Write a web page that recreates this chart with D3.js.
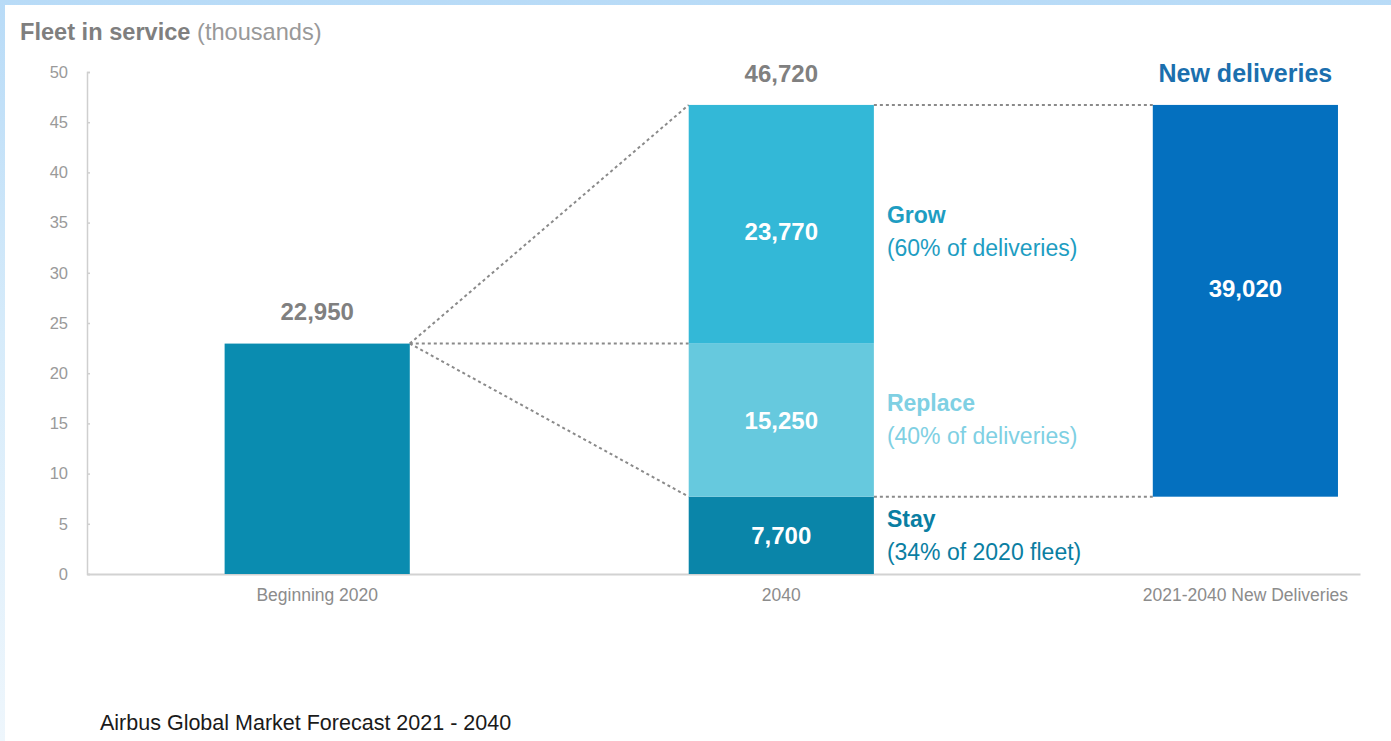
<!DOCTYPE html>
<html>
<head>
<meta charset="utf-8">
<script src="https://cdn.jsdelivr.net/npm/d3@7.9.0/dist/d3.min.js"></script>
<style>
  html, body { margin: 0; padding: 0; }
  body {
    width: 1391px; height: 741px; overflow: hidden;
    background: linear-gradient(180deg, #b8dbf7 0%, #d6ebfa 45%, #eef6fc 100%);
    font-family: "Liberation Sans", Arial, Helvetica, sans-serif;
  }
  #chart { position: absolute; left: 5px; top: 5px; width: 1386px; height: 736px; background: #fff; }
</style>
</head>
<body>
<div id="chart"></div>
<script>
// data (fleet counts, aircraft)
const categories = ["Beginning 2020", "2040", "2021-2040 New Deliveries"];
const fleet2020 = 22950;
const segmentNames = ["Stay", "Replace", "Grow"];
const segmentValues = [7700, 15250, 23770];
const segmentNotes = ["(34% of 2020 fleet)", "(40% of deliveries)", "(60% of deliveries)"];
const newDeliveries = 39020;
const yTicks = [0, 5, 10, 15, 20, 25, 30, 35, 40, 45, 50];

const fleet2040 = d3.sum(segmentValues);

// the svg sits inside the white panel, shifted by 5px
const width = 1386, height = 736;
const off = 5;

const svg = d3.select("#chart").append("svg")
  .attr("width", width)
  .attr("height", height);

const g = svg.append("g").attr("transform", `translate(${-off},${-off})`);

const x = d3.scaleBand()
  .domain(categories)
  .range([87, 1360])
  .paddingInner(0.601)
  .paddingOuter(0.172)
  .align(0.862);

const y = d3.scaleLinear()
  .domain([0, 50000])
  .range([574, 72]);

// axes
const yAxis = g.append("g")
  .attr("transform", "translate(87,0)")
  .call(d3.axisRight(y).tickValues(yTicks.map(d => d * 1000)).tickSize(3).tickFormat(d => d / 1000));
yAxis.select(".domain").attr("stroke", "#cfcfcf").attr("stroke-width", 1.5);
yAxis.selectAll(".tick line").attr("stroke", "#cfcfcf").attr("stroke-width", 1.5);
yAxis.selectAll(".tick text")
  .attr("x", -19)
  .attr("text-anchor", "end")
  .attr("fill", "#9a9a9a")
  .style("font-size", "16.5px")
  .style("font-family", "Liberation Sans, Arial, sans-serif");

const xAxis = g.append("g")
  .attr("transform", "translate(0,574)")
  .call(d3.axisBottom(x).tickSize(0).tickPadding(15));
xAxis.select(".domain").attr("stroke", "#d2d2d2").attr("stroke-width", 2);
xAxis.selectAll(".tick text")
  .attr("fill", "#8c8c8c")
  .style("font-size", "17.5px")
  .style("font-family", "Liberation Sans, Arial, sans-serif");

const bw = x.bandwidth();
const x0 = x(categories[0]), x1 = x(categories[1]), x2 = x(categories[2]);

// connector lines
const stackTops = d3.cumsum(segmentValues);
const lines = [
  [x0 + bw, fleet2020, x1, fleet2040],
  [x0 + bw, fleet2020, x1, fleet2020],
  [x0 + bw, fleet2020, x1, segmentValues[0]],
  [x1 + bw, fleet2040, x2, fleet2040],
  [x1 + bw, segmentValues[0], x2, segmentValues[0]]
];
g.append("g").selectAll("line")
  .data(lines)
  .join("line")
  .attr("x1", d => d[0]).attr("y1", d => y(d[1]))
  .attr("x2", d => d[2]).attr("y2", d => y(d[3]))
  .attr("stroke", "#8a8a8a")
  .attr("stroke-width", 2)
  .attr("stroke-dasharray", "3,3");

// 2020 bar
g.append("rect")
  .attr("x", x0).attr("width", bw)
  .attr("y", y(fleet2020)).attr("height", y(0) - y(fleet2020))
  .attr("fill", "#0a8cb0");

// 2040 stacked bar
const segColors = ["#0a85a9", "#66c9de", "#33b8d7"];
const noteColors = ["#0a7ea2", "#7fd0e3", "#1e9dc2"];
const labelShift = [0, 0, 7];
const segs = segmentValues.map((v, i) => ({
  name: segmentNames[i], note: segmentNotes[i], value: v,
  y0: i === 0 ? 0 : stackTops[i - 1], y1: stackTops[i], i
}));

g.append("g").selectAll("rect")
  .data(segs)
  .join("rect")
  .attr("x", x1).attr("width", bw)
  .attr("y", d => y(d.y1)).attr("height", d => y(d.y0) - y(d.y1))
  .attr("fill", d => segColors[d.i]);

g.append("g").selectAll("text")
  .data(segs)
  .join("text")
  .attr("x", x1 + bw / 2)
  .attr("y", d => (y(d.y0) + y(d.y1)) / 2 + labelShift[d.i])
  .attr("dy", "0.36em")
  .attr("text-anchor", "middle")
  .attr("fill", "#fff")
  .style("font-size", "24px")
  .style("font-weight", "bold")
  .text(d => d3.format(",")(d.value));

const notes = g.append("g").selectAll("g")
  .data(segs)
  .join("g")
  .attr("transform", d => `translate(${x1 + bw + 13},${(y(d.y0) + y(d.y1)) / 2 + labelShift[d.i] - 2})`);
notes.append("text")
  .attr("y", -15)
  .attr("dy", "0.36em")
  .attr("fill", d => noteColors[d.i])
  .style("font-size", "23px")
  .style("font-weight", "bold")
  .text(d => d.name);
notes.append("text")
  .attr("y", 18)
  .attr("dy", "0.36em")
  .attr("fill", d => noteColors[d.i])
  .style("font-size", "23px")
  .text(d => d.note);

// new deliveries bar
const ndBase = segmentValues[0];
g.append("rect")
  .attr("x", x2).attr("width", bw)
  .attr("y", y(ndBase + newDeliveries)).attr("height", y(ndBase) - y(ndBase + newDeliveries))
  .attr("fill", "#0470bf");
g.append("text")
  .attr("x", x2 + bw / 2)
  .attr("y", (y(ndBase) + y(ndBase + newDeliveries)) / 2 - 12)
  .attr("dy", "0.36em")
  .attr("text-anchor", "middle")
  .attr("fill", "#fff")
  .style("font-size", "24px")
  .style("font-weight", "bold")
  .text(d3.format(",")(newDeliveries));

// totals above bars
const tops = [
  { x: x0, v: fleet2020, text: d3.format(",")(fleet2020), color: "#808080" },
  { x: x1, v: fleet2040, text: d3.format(",")(fleet2040), color: "#808080" },
  { x: x2, v: ndBase + newDeliveries, text: "New deliveries", color: "#1b6fae" }
];
g.append("g").selectAll("text")
  .data(tops)
  .join("text")
  .attr("x", d => d.x + bw / 2)
  .attr("y", d => y(d.v) - 32)
  .attr("dy", "0.36em")
  .attr("text-anchor", "middle")
  .attr("fill", d => d.color)
  .style("font-size", (d, i) => i === 2 ? "25px" : "24px")
  .style("font-weight", "bold")
  .text(d => d.text);

// title
const title = g.append("text")
  .attr("x", 20).attr("y", 40)
  .attr("fill", "#7f7f7f")
  .style("font-size", "23.6px");
title.append("tspan").style("font-weight", "bold").text("Fleet in service ");
title.append("tspan").attr("fill", "#999").text("(thousands)");

// source
g.append("text")
  .attr("x", 100).attr("y", 730)
  .attr("fill", "#1a1a1a")
  .style("font-size", "21.5px")
  .text("Airbus Global Market Forecast 2021 - 2040");
</script>
</body>
</html>
